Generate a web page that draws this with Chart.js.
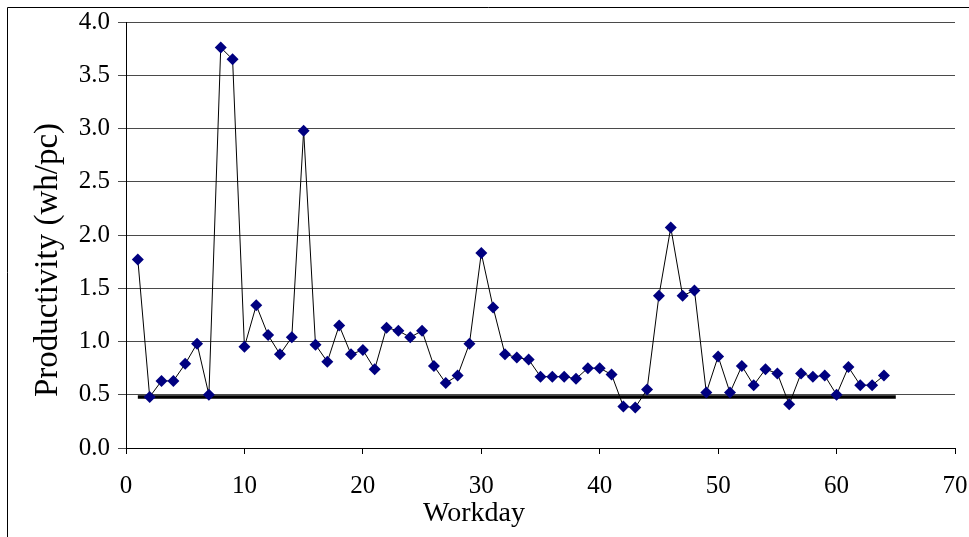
<!DOCTYPE html>
<html>
<head>
<meta charset="utf-8">
<script src="https://cdn.jsdelivr.net/npm/chart.js@4.4.0/dist/chart.umd.min.js"></script>
<style>
html,body{margin:0;padding:0;background:#fff;}
#wrap{position:relative;width:969px;height:537px;}
</style>
</head>
<body>
<div id="wrap"><canvas id="c" width="969" height="537"></canvas></div>
<script>
const workdays = [1,2,3,4,5,6,7,8,9,10,11,12,13,14,15,16,17,18,19,20,21,22,23,24,25,26,27,28,29,30,31,32,33,34,35,36,37,38,39,40,41,42,43,44,45,46,47,48,49,50,51,52,53,54,55,56,57,58,59,60,61,62,63,64];
const productivity = [1.77,0.48,0.63,0.63,0.79,0.98,0.50,3.76,3.65,0.95,1.34,1.06,0.88,1.04,2.98,0.97,0.81,1.15,0.88,0.92,0.74,1.13,1.10,1.04,1.10,0.77,0.61,0.68,0.98,1.83,1.32,0.88,0.85,0.83,0.67,0.67,0.67,0.65,0.75,0.75,0.69,0.39,0.38,0.55,1.43,2.07,1.43,1.48,0.52,0.86,0.52,0.77,0.59,0.74,0.70,0.41,0.70,0.67,0.68,0.50,0.76,0.59,0.59,0.68];
const baselineX = [1, 65];
const baselineY = [0.48, 0.48];
const xTicksRange = [0, 70, 10];
const yTicksRange = [0, 4, 0.5];
const xTitle = 'Workday';
const yTitle = 'Productivity (wh/pc)';

const FONT = '"Liberation Serif", "Times New Roman", serif';

const framePlugin = {
  id: 'frame',
  afterDraw(chart) {
    const ctx = chart.ctx;
    ctx.save();
    ctx.strokeStyle = '#000';
    ctx.lineWidth = 1;
    ctx.beginPath();
    ctx.moveTo(7.5, 537);
    ctx.lineTo(7.5, 7.5);
    ctx.lineTo(969, 7.5);
    ctx.stroke();
    ctx.fillStyle = '#000';
    ctx.textAlign = 'center';
    ctx.textBaseline = 'middle';
    ctx.font = '28px ' + FONT;
    ctx.fillText(xTitle, 474, 514);
    ctx.font = '33px ' + FONT;
    ctx.translate(48, 260);
    ctx.rotate(-Math.PI / 2);
    ctx.fillText(yTitle, 0, 0);
    ctx.restore();
  }
};

new Chart(document.getElementById('c'), {
  type: 'scatter',
  data: {
    datasets: [
      {
        data: baselineX.map((x, i) => ({x, y: baselineY[i]})),
        showLine: true,
        borderColor: '#000',
        borderWidth: 3.5,
        pointRadius: 0,
        order: 2
      },
      {
        data: workdays.map((x, i) => ({x, y: productivity[i]})),
        showLine: true,
        borderColor: '#000',
        borderWidth: 1,
        pointStyle: 'rectRot',
        pointRadius: 6,
        pointBackgroundColor: '#000080',
        pointBorderColor: '#000080',
        pointBorderWidth: 0,
        order: 1
      }
    ]
  },
  options: {
    responsive: false,
    animation: false,
    layout: { padding: { left: 0, right: 14, top: 22, bottom: 0 } },
    plugins: { legend: { display: false }, tooltip: { enabled: false } },
    scales: {
      x: {
        type: 'linear',
        min: xTicksRange[0], max: xTicksRange[1],
        afterFit(s) { s.height = 89; s.paddingLeft = 0; s.paddingRight = 0; },
        ticks: { stepSize: xTicksRange[2], color: '#000', font: { family: FONT, size: 25 }, padding: 17, maxRotation: 0 },
        grid: { drawOnChartArea: false, drawTicks: true, tickLength: 6, color: '#000' },
        border: { color: '#000', width: 1 }
      },
      y: {
        min: yTicksRange[0], max: yTicksRange[1],
        afterFit(s) { s.width = 126; s.paddingTop = 0; s.paddingBottom = 0; },
        ticks: { stepSize: yTicksRange[2], color: '#000', font: { family: FONT, size: 25 }, padding: 8,
                 callback: v => Number(v).toFixed(1) },
        grid: { color: '#4a4a4a', lineWidth: 1, tickLength: 8, drawTicks: true },
        border: { color: '#000', width: 1 }
      }
    }
  },
  plugins: [framePlugin]
});
</script>
</body>
</html>
